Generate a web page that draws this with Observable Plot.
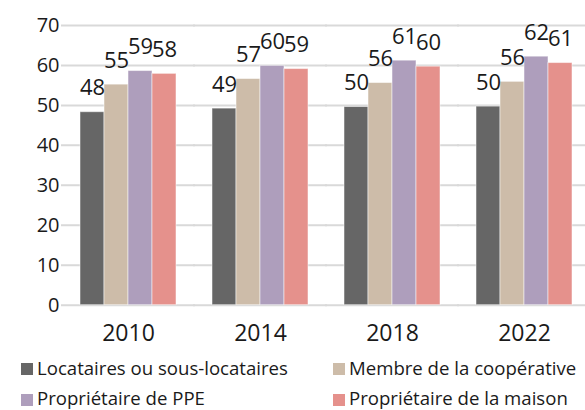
<!DOCTYPE html>
<html><head><meta charset="utf-8">
<script src="https://cdn.jsdelivr.net/npm/d3@7"></script>
<script src="https://cdn.jsdelivr.net/npm/@observablehq/plot@0.6"></script>
<style>
html,body{margin:0;padding:0;background:#fff;overflow:hidden;width:585px;height:410px}
#chart svg{display:block}
#legend{position:relative;height:60px;font-family:"Open Sans",sans-serif;font-size:18.6px;color:#1a1a1a}
.item{position:absolute;display:flex;align-items:flex-start;line-height:18.6px;white-space:nowrap}
.sw{width:12px;height:12px;margin-right:4px;margin-top:4.5px;flex:none}
</style></head><body>
<div id="chart"></div><div id="legend"></div>
<script>
const years = ["2010", "2014", "2018", "2022"];
const series = ["Locataires ou sous-locataires", "Membre de la coopérative", "Propriétaire de PPE", "Propriétaire de la maison"];
const colors = ["#666666", "#cdbca9", "#ae9ebc", "#e5918c"];
const locataires = [48.3, 49.2, 49.6, 49.7];
const cooperative = [55.2, 56.6, 55.6, 55.9];
const ppe = [58.6, 59.9, 61.2, 62.2];
const maison = [57.9, 59.1, 59.7, 60.6];
const yTicks = [0, 10, 20, 30, 40, 50, 60, 70];

const seriesValues = [locataires, cooperative, ppe, maison];
const data = years.flatMap((yr, i) => seriesValues.map((arr, j) => ({year: yr, series: series[j], value: arr[i]})));

const chart = Plot.plot({
  width: 585, height: 350,
  marginTop: 25, marginBottom: 45.3, marginLeft: 60, marginRight: -7,
  style: {fontFamily: "Open Sans", fontSize: "20px", color: "#1a1a1a", background: "transparent", overflow: "hidden"},
  fx: {domain: years, paddingInner: 0.2764, paddingOuter: 0.143, label: null},
  x: {domain: series, padding: 0, axis: null},
  y: {domain: [0, 70], label: null},
  color: {domain: series, range: colors},
  marks: [
    Plot.ruleY(yTicks, {stroke: "#d9d9d9", strokeWidth: 2, insetLeft: -19, insetRight: -19}),
    Plot.axisY({ticks: yTicks, tickSize: 0, tickPadding: 21, label: null, fontSize: 20}),
    Plot.axisFx({anchor: "bottom", tickSize: 0, tickPadding: 19, label: null, fontSize: 23}),
    Plot.barY(data, {fx: "year", x: "series", y: "value", fill: "series", stroke: "white", strokeOpacity: 0.5, strokeWidth: 1}),
    Plot.text(data, {fx: "year", x: "series", y: "value", text: d => d3.format(".0f")(d.value), lineAnchor: "bottom", dy: -17, fontSize: 22, fill: "#1a1a1a"})
  ]
});
document.getElementById("chart").appendChild(chart);

const legend = document.getElementById("legend");
const pos = [[21, 8.5], [333, 8.5], [21, 39], [333, 39]];
series.forEach((s, i) => {
  const it = document.createElement("div");
  it.className = "item";
  it.style.left = pos[i][0] + "px";
  it.style.top = pos[i][1] + "px";
  const sw = document.createElement("span");
  sw.className = "sw";
  sw.style.background = colors[i];
  const t = document.createElement("span");
  t.textContent = s;
  it.appendChild(sw); it.appendChild(t);
  legend.appendChild(it);
});
</script>
</body></html>
